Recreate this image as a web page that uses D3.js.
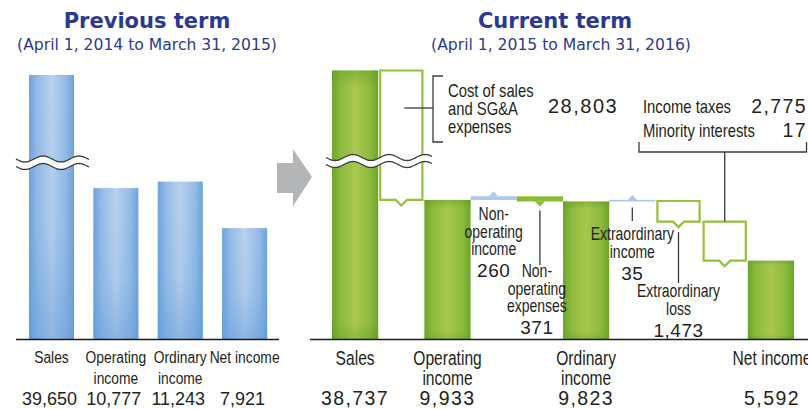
<!DOCTYPE html>
<html><head><meta charset="utf-8">
<script src="https://cdn.jsdelivr.net/npm/d3@7"></script>
<style>
html,body{margin:0;padding:0;background:#fff;}
svg{display:block;}
.nar{font-family:"Liberation Sans",Arial,sans-serif;fill:#231f20;}
.num{font-family:"Liberation Sans",Arial,sans-serif;fill:#231f20;}
</style></head><body>
<svg id="c" width="808" height="409"></svg>
<script>
// ---------- data ----------
const prevTitle = "Previous term";
const prevPeriod = "(April 1, 2014 to March 31, 2015)";
const currTitle = "Current term";
const currPeriod = "(April 1, 2015 to March 31, 2016)";

const prevCategories = ["Sales", "Operating\nincome", "Ordinary\nincome", "Net income"];
const prevValues = [39650, 10777, 11243, 7921];
const prevValueLabels = ["39,650", "10,777", "11,243", "7,921"];

const currSteps = ["Sales", "Cost of sales and SG&A expenses", "Operating income", "Non-operating income",
  "Non-operating expenses", "Ordinary income", "Extraordinary income", "Extraordinary loss",
  "Income taxes and minority interests", "Net income"];
const currValues = [38737, -28803, 9933, 260, -371, 9823, 35, -1473, -2792, 5592];
const currTypes = ["total", "box", "total", "inc", "dec", "total", "inc", "box", "box", "total"];
const currAxisLabels = [["Sales"], null, ["Operating", "income"], null, null, ["Ordinary", "income"], null, null, null, ["Net income"]];
const currValueLabels = ["38,737", null, "9,933", null, null, "9,823", null, null, null, "5,592"];
const taxItems = ["Income taxes", "Minority interests"];
const taxValues = ["2,775", "17"];

// ---------- setup ----------
const svg = d3.select("#c");
const defs = svg.append("defs");
function hGrad(id, edge, mid, center) {
  const g = defs.append("linearGradient").attr("id", id).attr("x1", 0).attr("x2", 1).attr("y1", 0).attr("y2", 0);
  [[0, edge], [0.18, mid], [0.5, center], [0.82, mid], [1, edge]].forEach(s => g.append("stop").attr("offset", s[0]).attr("stop-color", s[1]));
}
hGrad("gBlue", "#6ea2db", "#94bbe6", "#b8d1ee");
hGrad("gGreen", "#6ca52b", "#8cba3c", "#a8c84e");
const vb = defs.append("linearGradient").attr("id", "vBlue").attr("x1", 0).attr("x2", 0).attr("y1", 0).attr("y2", 1);
vb.append("stop").attr("offset", 0).attr("stop-color", "#5a94d6").attr("stop-opacity", 0);
vb.append("stop").attr("offset", 0.6).attr("stop-color", "#5a94d6").attr("stop-opacity", 0.1);
vb.append("stop").attr("offset", 1).attr("stop-color", "#5a94d6").attr("stop-opacity", 0.45);
const vg = defs.append("linearGradient").attr("id", "vGreen").attr("x1", 0).attr("x2", 0).attr("y1", 0).attr("y2", 1);
vg.append("stop").attr("offset", 0).attr("stop-color", "#5e9a24").attr("stop-opacity", 0.45);
vg.append("stop").attr("offset", 0.06).attr("stop-color", "#5e9a24").attr("stop-opacity", 0);
vg.append("stop").attr("offset", 0.94).attr("stop-color", "#5e9a24").attr("stop-opacity", 0);
vg.append("stop").attr("offset", 1).attr("stop-color", "#5e9a24").attr("stop-opacity", 0.35);

const BASE = 339;
const titleColor = "#2b3990";
const lineCol = "#3a3a3a";
const boxCol = "#97c03a";
const SX = 0.8; // horizontal condensing of label font

// condensed text helper
function ntext(x, y, str, size, anchor) {
  return svg.append("text").attr("class", "nar")
    .attr("transform", `translate(${x},${y}) scale(${SX},1)`)
    .attr("text-anchor", anchor || "start").attr("font-size", size).text(str);
}
function numText(x, y, str, size, anchor, spacing) {
  return svg.append("text").attr("class", "num").attr("x", x).attr("y", y)
    .attr("text-anchor", anchor || "start").attr("font-size", size)
    .attr("letter-spacing", spacing || 0).text(str);
}

function wave(x0, x1, yc) {
  const pts = [];
  for (let x = x0; x <= x1; x += 1) pts.push([x, yc + 3 * Math.sin((x - x0) / 36 * 2 * Math.PI)]);
  return pts;
}
function drawBreak(x0, x1, y1, y2) {
  const top = wave(x0, x1, y1), bot = wave(x0, x1, y2);
  svg.append("path").attr("d", d3.line()(top.concat(bot.slice().reverse())) + "Z").attr("fill", "#fff");
  svg.append("path").attr("d", d3.line().curve(d3.curveBasis)(top)).attr("fill", "none").attr("stroke", lineCol).attr("stroke-width", 1.3);
  svg.append("path").attr("d", d3.line().curve(d3.curveBasis)(bot)).attr("fill", "none").attr("stroke", lineCol).attr("stroke-width", 1.3);
}

// ---------- titles ----------
function titles(cx, cx2, t, p) {
  svg.append("text").attr("x", cx).attr("y", 28).attr("text-anchor", "middle")
    .attr("font-family", "DejaVu Sans").attr("font-weight", "bold").attr("font-size", 21).attr("fill", titleColor).text(t);
  svg.append("text").attr("x", cx2).attr("y", 50).attr("text-anchor", "middle")
    .attr("font-family", "DejaVu Sans").attr("font-size", 15.6).attr("fill", titleColor).text(p);
}
titles(147, 147, prevTitle, prevPeriod);
titles(555, 561, currTitle, currPeriod);

// ---------- left panel ----------
const xL = d3.scaleBand().domain(d3.range(prevValues.length)).range([19.3, 276.8]).paddingInner(0.3).paddingOuter(0.15);
const yL = d3.scaleLinear().domain([0, 12000, 39650]).range([BASE, BASE - 12000 * 0.014, 75]);
prevValues.forEach((v, i) => {
  const x = xL(i), w = xL.bandwidth(), y = yL(v), h = BASE - y;
  svg.append("rect").attr("x", x).attr("y", y).attr("width", w).attr("height", h).attr("fill", "url(#gBlue)");
  svg.append("rect").attr("x", x).attr("y", y).attr("width", w).attr("height", h).attr("fill", "url(#vBlue)");
});
drawBreak(16, 89, 159, 166.5);
svg.append("line").attr("x1", 16).attr("x2", 279).attr("y1", BASE + 0.5).attr("y2", BASE + 0.5).attr("stroke", "#1a1a1a").attr("stroke-width", 1.5);
prevCategories.forEach((c, i) => {
  const cx = xL(i) + xL.bandwidth() / 2;
  c.split("\n").forEach((ln, k) => ntext(cx, 363 + k * 21, ln, 17.3, "middle"));
  numText(cx - 2, 405, prevValueLabels[i], 18, "middle", 0);
});

// ---------- arrow ----------
svg.append("path").attr("d", d3.line()([[277, 163], [293, 163], [293, 149], [312, 177], [293, 206], [293, 193], [277, 193]]) + "Z")
  .attr("fill", "#b4b5b7");

// ---------- right panel ----------
const xR = d3.scaleBand().domain(d3.range(currValues.length)).range([332, 794]).padding(0);
const yR = d3.scaleLinear().domain([0, 12000, 38737]).range([BASE, BASE - 12000 * 0.014, 70.5]);
let run = 0;
const geo = [];
currValues.forEach((v, i) => {
  const t = currTypes[i];
  const x = xR(i), w = xR.bandwidth(), cx = x + w / 2;
  if (t === "total") {
    run = v;
    const y = yR(v);
    svg.append("rect").attr("x", x).attr("y", y).attr("width", w).attr("height", BASE - y).attr("fill", "url(#gGreen)");
    svg.append("rect").attr("x", x).attr("y", y).attr("width", w).attr("height", BASE - y).attr("fill", "url(#vGreen)");
    geo.push({cx, top: y, bot: BASE});
  } else if (t === "box") {
    const yTop = yR(run), yBot = yR(run + v);
    run += v;
    const x0 = x + 2, x1 = x + w - 2;
    svg.append("path").attr("d", `M${x0},${yTop}H${x1}V${yBot}H${cx + 5.5}L${cx},${yBot + 5.5}L${cx - 5.5},${yBot}H${x0}Z`)
      .attr("fill", "#fff").attr("stroke", boxCol).attr("stroke-width", 2.2);
    geo.push({cx, top: yTop, bot: yBot + 5.5});
  } else if (t === "inc") {
    const yTop = yR(run + v), yBot = yR(run);
    run += v;
    const hh = Math.max(yBot - yTop, 1.6);
    svg.append("rect").attr("x", x).attr("y", yBot - hh).attr("width", w).attr("height", hh).attr("fill", "#a9c8eb");
    svg.append("path").attr("d", d3.line()([[cx - 4.5, yBot - hh], [cx + 4.5, yBot - hh], [cx, yBot - hh - 5]]) + "Z").attr("fill", "#a9c8eb");
    geo.push({cx, top: yBot - hh, bot: yBot});
  } else {
    const yTop = yR(run), yBot = yR(run + v);
    run += v;
    svg.append("rect").attr("x", x).attr("y", yTop).attr("width", w).attr("height", yBot - yTop).attr("fill", "#8dba35");
    svg.append("path").attr("d", d3.line()([[cx - 5, yBot], [cx + 5, yBot], [cx, yBot + 5]]) + "Z").attr("fill", "#8dba35");
    geo.push({cx, top: yTop, bot: yBot + 5});
  }
});
drawBreak(326, 432, 157.5, 164.5);
svg.append("line").attr("x1", 310).attr("x2", 808).attr("y1", BASE + 0.5).attr("y2", BASE + 0.5).attr("stroke", "#1a1a1a").attr("stroke-width", 1.5);

// axis labels
currAxisLabels.forEach((lab, i) => {
  if (!lab) return;
  let cx = xR(i) + xR.bandwidth() / 2;
  if (i === 9) cx = 772;
  lab.forEach((ln, k) => ntext(cx, 365 + k * 20, ln, 19.5, "middle"));
  numText(cx, 405, currValueLabels[i], 19.5, "middle", 1.4);
});

function leader(x1, y1, x2, y2) {
  svg.append("line").attr("x1", x1).attr("y1", y1).attr("x2", x2).attr("y2", y2).attr("stroke", lineCol).attr("stroke-width", 1.3);
}
function block(cx, lines, nums, y0, step) {
  lines.forEach((ln, k) => ntext(cx, y0 + k * step, ln, 17.5, "middle"));
  numText(cx, y0 + lines.length * step + 4, nums, 19, "middle", 0.5);
}

// cost of sales bracket
const cCx = geo[1].cx;
leader(cCx + 3, 108, 433, 108);
svg.append("path").attr("d", "M443,76H433V142H443").attr("fill", "none").attr("stroke", lineCol).attr("stroke-width", 1.3);
["Cost of sales", "and SG&A", "expenses"].forEach((ln, k) => ntext(448, 97 + k * 18, ln, 18.5, "start"));
numText(548, 113, d3.format(",")(-currValues[1]), 20, "start", 1.5);

// non-operating income
block(geo[3].cx, ["Non-", "operating", "income"], "260", 220, 17.5);
// non-operating expenses
leader(geo[4].cx, geo[4].bot + 4, geo[4].cx, 265);
block(geo[4].cx - 3, ["Non-", "operating", "expenses"], "371", 277, 17.5);
// extraordinary income
leader(geo[6].cx, geo[6].bot + 6, geo[6].cx, 221);
block(geo[6].cx, ["Extraordinary", "income"], "35", 240, 18);
// extraordinary loss
leader(geo[7].cx, geo[7].bot + 5, geo[7].cx, 283);
block(geo[7].cx, ["Extraordinary", "loss"], "1,473", 297, 18);

// taxes bracket
const tCx = geo[8].cx;
leader(tCx, 152, tCx, geo[8].top);
svg.append("path").attr("d", "M639,142V152H806.5V142").attr("fill", "none").attr("stroke", lineCol).attr("stroke-width", 1.3);
taxItems.forEach((t, k) => {
  ntext(643, 113 + k * 24, t, 18.5, "start");
  numText(807, 113 + k * 24, taxValues[k], 19.5, "end", 1.4);
});
</script>
</body></html>
